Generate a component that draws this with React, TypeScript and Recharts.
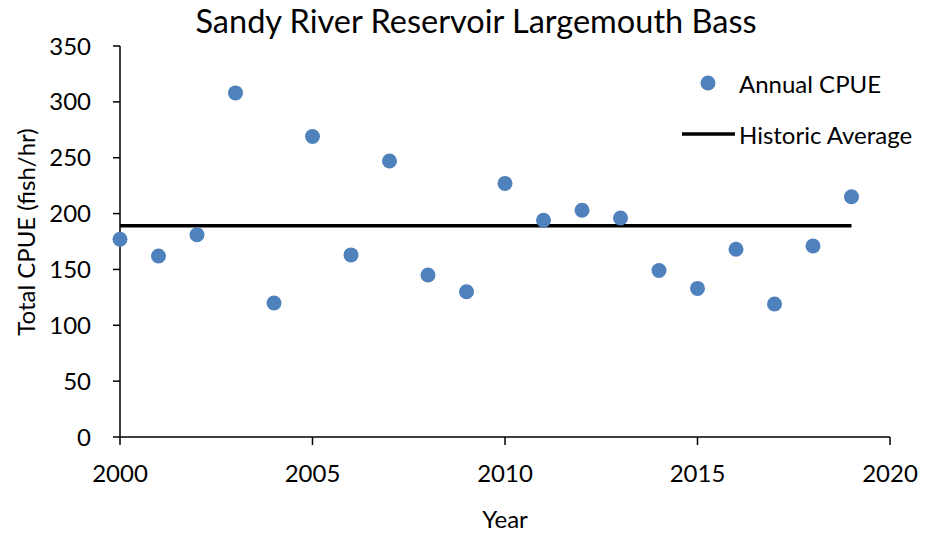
import React from "react";
import {
  ComposedChart,
  Scatter,
  Line,
  XAxis,
  YAxis,
  Label,
} from "recharts";

const YEARS = [2000, 2001, 2002, 2003, 2004, 2005, 2006, 2007, 2008, 2009, 2010, 2011, 2012, 2013, 2014, 2015, 2016, 2017, 2018, 2019];
const CPUE = [177, 162, 181, 308, 120, 269, 163, 247, 145, 130, 227, 194, 203, 196, 149, 133, 168, 119, 171, 215];
const HISTORIC_AVG = 189;
const X_TICKS = [2000, 2005, 2010, 2015, 2020];
const Y_TICKS = [0, 50, 100, 150, 200, 250, 300, 350];

const FONT = "Lato, 'Open Sans', sans-serif";
const DOT_BLUE = "#4f81bd";

const scatterData = YEARS.map((year, i) => ({ year, cpue: CPUE[i] }));
const avgData = YEARS.map(year => ({ year, avg: HISTORIC_AVG }));

function LegendBox() {
  return (
    <div
      style={{
        position: "absolute",
        left: 682,
        top: 66,
        fontFamily: FONT,
        fontSize: 24,
        color: "#000",
        whiteSpace: "nowrap",
      }}
    >
      <div style={{ display: "flex", alignItems: "center", height: 34 }}>
        <svg width={57} height={20}>
          <circle cx={26} cy={10} r={7.5} fill={DOT_BLUE} />
        </svg>
        <span>Annual CPUE</span>
      </div>
      <div style={{ display: "flex", alignItems: "center", height: 34, marginTop: 17 }}>
        <svg width={57} height={20}>
          <line x1={0} y1={10} x2={53} y2={10} stroke="#000" strokeWidth={3.5} />
        </svg>
        <span>Historic Average</span>
      </div>
    </div>
  );
}

export default function App() {
  return (
    <div style={{ position: "absolute", left: 0, top: 0, width: 925, height: 535, background: "#fff" }}>
      <div
        style={{
          position: "absolute",
          top: 1,
          left: 0,
          width: 952,
          textAlign: "center",
          fontFamily: FONT,
          fontSize: 32.5,
          color: "#000",
        }}
      >
        Sandy River Reservoir Largemouth Bass
      </div>
      <ComposedChart
        width={925}
        height={535}
        margin={{ top: 46, right: 35, bottom: 8, left: 0 }}
      >
        <XAxis
          dataKey="year"
          type="number"
          domain={[2000, 2020]}
          ticks={X_TICKS}
          interval={0}
          allowDuplicatedCategory={false}
          height={90}
          tickSize={8}
          tickMargin={20}
          stroke="#000"
          strokeWidth={1.5}
          tick={{ fontSize: 24, fill: "#000", fontFamily: FONT }}
        >
          <Label
            content={(props: any) => {
              const vb = props.viewBox || {};
              const cx = (vb.x || 0) + (vb.width || 0) / 2;
              return (
                <text
                  x={cx}
                  y={518}
                  textAnchor="middle"
                  dominantBaseline="central"
                  style={{ fontSize: 24, fill: "#000", fontFamily: FONT }}
                >
                  Year
                </text>
              );
            }}
          />
        </XAxis>
        <YAxis
          type="number"
          domain={[0, 350]}
          ticks={Y_TICKS}
          interval={0}
          width={120}
          tickSize={7}
          tickMargin={22}
          stroke="#000"
          strokeWidth={1.5}
          tick={{ fontSize: 24, fill: "#000", fontFamily: FONT }}
        >
          <Label
            content={() => (
              <text
                x={25}
                y={232}
                transform="rotate(-90, 25, 232)"
                textAnchor="middle"
                dominantBaseline="central"
                style={{ fontSize: 24, fill: "#000", fontFamily: FONT }}
              >
                Total CPUE (fish/hr)
              </text>
            )}
          />
        </YAxis>
        <Line
          data={avgData}
          dataKey="avg"
          type="linear"
          stroke="#000"
          strokeWidth={3.5}
          dot={false}
          activeDot={false}
          isAnimationActive={false}
        />
        <Scatter
          data={scatterData}
          dataKey="cpue"
          fill={DOT_BLUE}
          isAnimationActive={false}
          shape={(p: any) => <circle cx={p.cx} cy={p.cy} r={7.5} fill={DOT_BLUE} />}
        />
      </ComposedChart>
      <LegendBox />
    </div>
  );
}
